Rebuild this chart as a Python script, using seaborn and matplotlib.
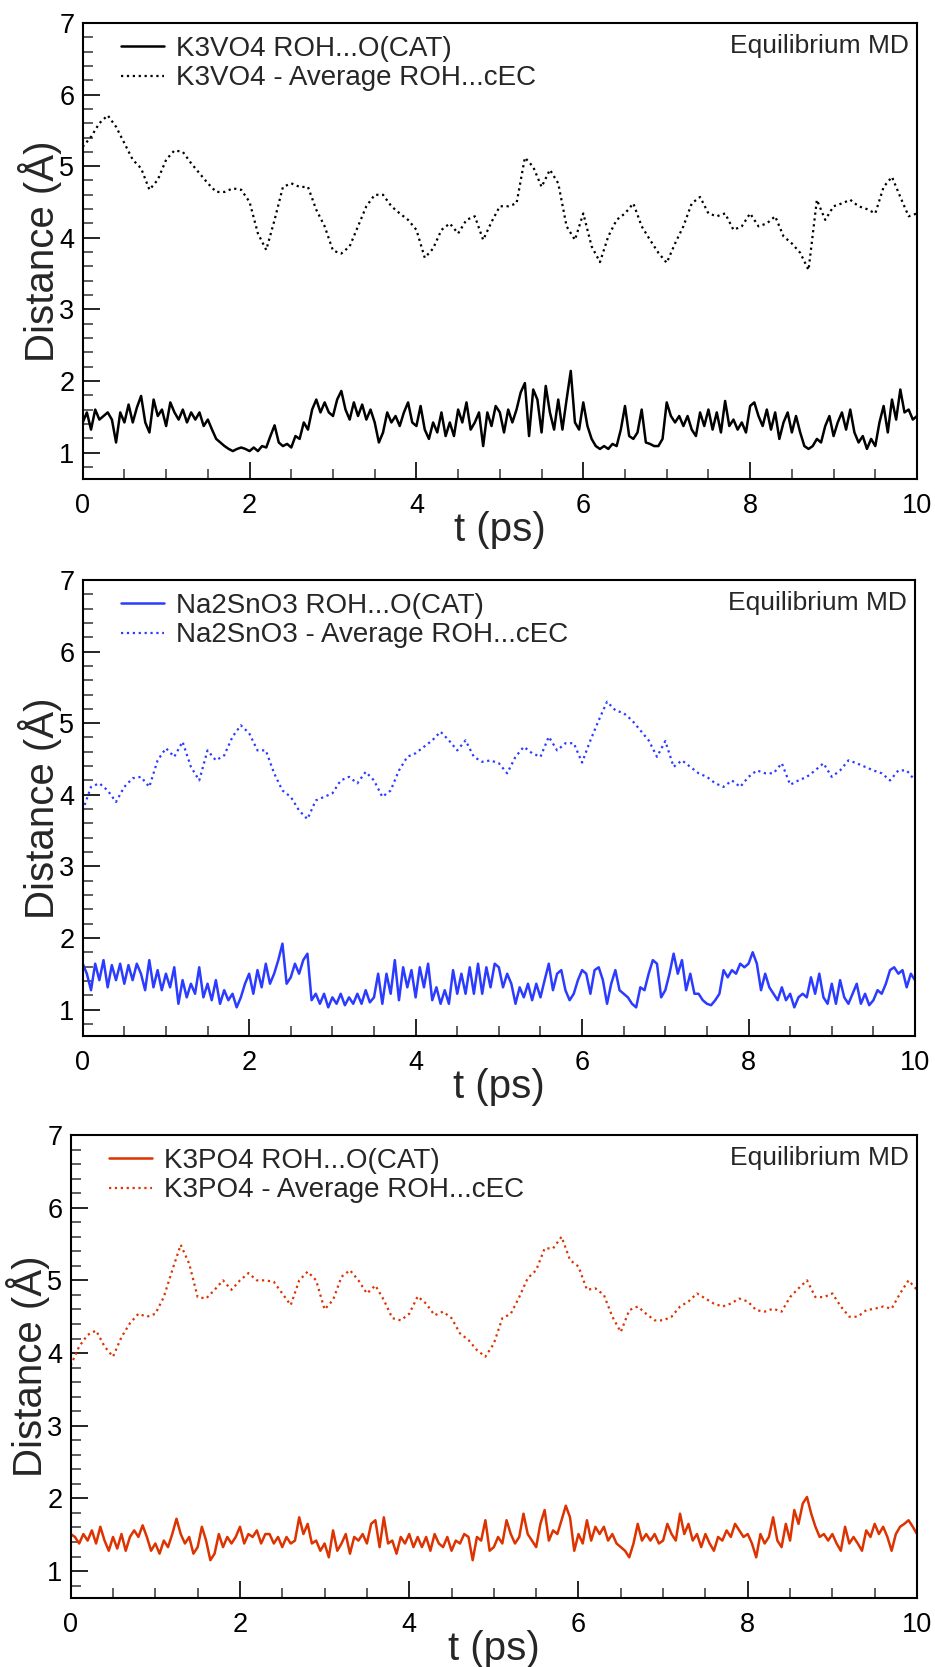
import numpy as np
import matplotlib
matplotlib.use("Agg")
import matplotlib.pyplot as plt
from matplotlib.ticker import MultipleLocator
from matplotlib.transforms import offset_copy
import seaborn as sns

# ---------------- data ----------------
k3vo4_cat = [1.42,1.56,1.32,1.6,1.46,1.51,1.56,1.46,1.14,1.56,
             1.42,1.67,1.42,1.63,1.79,1.42,1.28,1.74,1.51,1.6,
             1.37,1.7,1.56,1.46,1.6,1.42,1.56,1.46,1.56,1.37,
             1.46,1.32,1.19,1.14,1.09,1.05,1.02,1.05,1.07,1.05,
             1.02,1.07,1.02,1.09,1.07,1.23,1.38,1.14,1.09,1.12,
             1.07,1.23,1.19,1.42,1.32,1.6,1.74,1.56,1.7,1.56,
             1.51,1.74,1.86,1.6,1.46,1.7,1.51,1.67,1.46,1.6,
             1.42,1.14,1.28,1.56,1.42,1.51,1.37,1.56,1.7,1.42,
             1.37,1.65,1.32,1.19,1.42,1.28,1.56,1.23,1.42,1.23,
             1.6,1.42,1.7,1.32,1.42,1.56,1.09,1.56,1.37,1.65,
             1.56,1.28,1.6,1.42,1.6,1.84,1.97,1.23,1.88,1.74,
             1.28,1.93,1.56,1.32,1.74,1.32,1.74,2.14,1.42,1.32,
             1.7,1.37,1.19,1.09,1.05,1.09,1.05,1.12,1.09,1.32,
             1.65,1.23,1.19,1.28,1.6,1.14,1.12,1.09,1.09,1.19,
             1.7,1.51,1.42,1.51,1.37,1.51,1.32,1.23,1.56,1.37,
             1.6,1.32,1.56,1.28,1.72,1.37,1.46,1.32,1.42,1.28,
             1.65,1.7,1.51,1.37,1.6,1.32,1.56,1.19,1.42,1.56,
             1.28,1.51,1.28,1.09,1.05,1.09,1.19,1.14,1.37,1.51,
             1.23,1.42,1.56,1.32,1.6,1.28,1.14,1.23,1.05,1.19,
             1.09,1.42,1.65,1.28,1.74,1.46,1.88,1.56,1.6,1.46,
             1.51]
k3vo4_cec = [5.27,5.41,5.6,5.71,5.55,5.32,5.09,4.97,4.67,4.81,
             5.09,5.22,5.2,5.04,4.9,4.76,4.64,4.64,4.69,4.67,
             4.5,4.06,3.83,4.25,4.71,4.76,4.71,4.71,4.39,4.16,
             3.82,3.78,3.88,4.16,4.44,4.6,4.6,4.44,4.34,4.25,
             4.11,3.72,3.85,4.11,4.2,4.06,4.25,4.3,3.97,4.22,
             4.44,4.44,4.48,5.12,4.99,4.71,4.95,4.76,4.16,3.97,
             4.34,3.88,3.66,4.02,4.25,4.34,4.48,4.16,3.97,3.79,
             3.65,3.92,4.16,4.48,4.57,4.34,4.3,4.34,4.11,4.16,
             4.34,4.16,4.2,4.3,4.02,3.92,3.79,3.55,4.53,4.25,
             4.44,4.48,4.53,4.44,4.4,4.34,4.71,4.85,4.57,4.3,
             4.34]

na2sno3_cat = [1.64,1.5,1.27,1.64,1.41,1.69,1.31,1.62,1.41,1.64,
               1.36,1.62,1.41,1.64,1.5,1.27,1.69,1.31,1.55,1.27,
               1.5,1.31,1.59,1.08,1.41,1.17,1.36,1.22,1.59,1.17,
               1.36,1.13,1.41,1.08,1.27,1.13,1.22,1.03,1.17,1.36,
               1.5,1.22,1.55,1.31,1.64,1.36,1.5,1.69,1.92,1.36,
               1.45,1.64,1.5,1.69,1.78,1.13,1.22,1.08,1.22,1.03,
               1.17,1.08,1.22,1.06,1.17,1.08,1.22,1.08,1.27,1.1,
               1.17,1.5,1.08,1.5,1.22,1.69,1.13,1.59,1.31,1.55,
               1.17,1.59,1.31,1.64,1.13,1.31,1.08,1.27,1.08,1.55,
               1.22,1.5,1.22,1.59,1.22,1.64,1.22,1.59,1.31,1.64,
               1.59,1.31,1.5,1.36,1.08,1.31,1.17,1.36,1.13,1.36,
               1.17,1.41,1.64,1.27,1.5,1.55,1.27,1.13,1.22,1.41,
               1.55,1.5,1.22,1.55,1.59,1.41,1.08,1.36,1.55,1.27,
               1.22,1.17,1.08,1.03,1.31,1.27,1.5,1.69,1.64,1.17,
               1.27,1.5,1.78,1.5,1.69,1.27,1.5,1.22,1.22,1.13,
               1.08,1.06,1.13,1.22,1.55,1.45,1.55,1.5,1.64,1.59,
               1.64,1.8,1.64,1.27,1.5,1.31,1.22,1.13,1.31,1.13,
               1.22,1.03,1.17,1.22,1.17,1.45,1.22,1.5,1.17,1.08,
               1.36,1.08,1.41,1.17,1.08,1.22,1.36,1.08,1.22,1.06,
               1.13,1.27,1.22,1.36,1.55,1.59,1.5,1.55,1.31,1.5,
               1.41]
na2sno3_cec = [3.78,4.11,4.16,4.06,3.9,4.11,4.23,4.25,4.11,4.48,
               4.65,4.53,4.74,4.39,4.2,4.62,4.48,4.55,4.81,4.97,
               4.86,4.62,4.62,4.3,4.06,3.97,3.78,3.66,3.92,3.97,
               4.02,4.2,4.25,4.16,4.32,4.2,3.97,4.06,4.34,4.53,
               4.58,4.67,4.76,4.88,4.76,4.62,4.76,4.53,4.46,4.48,
               4.44,4.3,4.53,4.67,4.58,4.53,4.81,4.62,4.72,4.72,
               4.45,4.76,5.04,5.3,5.18,5.14,5.04,4.9,4.76,4.53,
               4.75,4.39,4.48,4.39,4.3,4.25,4.16,4.11,4.2,4.11,
               4.25,4.34,4.3,4.3,4.44,4.14,4.2,4.25,4.34,4.44,
               4.25,4.34,4.48,4.44,4.39,4.34,4.3,4.2,4.34,4.34,
               4.2]

k3po4_cat = [1.51,1.47,1.38,1.51,1.42,1.56,1.38,1.61,1.42,1.28,
             1.47,1.31,1.51,1.28,1.47,1.56,1.47,1.63,1.47,1.28,
             1.38,1.24,1.42,1.33,1.51,1.72,1.51,1.38,1.47,1.24,
             1.33,1.61,1.42,1.15,1.24,1.51,1.33,1.47,1.38,1.47,
             1.61,1.38,1.51,1.47,1.56,1.38,1.51,1.51,1.38,1.47,
             1.33,1.47,1.38,1.42,1.74,1.51,1.65,1.38,1.42,1.28,
             1.38,1.19,1.56,1.28,1.38,1.51,1.24,1.47,1.42,1.51,
             1.38,1.65,1.7,1.33,1.74,1.38,1.42,1.24,1.47,1.38,
             1.51,1.33,1.47,1.33,1.47,1.28,1.51,1.38,1.33,1.47,
             1.28,1.42,1.38,1.51,1.47,1.15,1.47,1.42,1.7,1.28,
             1.33,1.47,1.38,1.7,1.51,1.38,1.47,1.79,1.51,1.42,
             1.33,1.65,1.84,1.42,1.56,1.51,1.7,1.9,1.74,1.28,
             1.51,1.38,1.7,1.42,1.61,1.51,1.61,1.42,1.51,1.38,
             1.33,1.28,1.19,1.38,1.65,1.42,1.51,1.42,1.51,1.38,
             1.42,1.65,1.51,1.42,1.79,1.51,1.65,1.42,1.51,1.33,
             1.51,1.38,1.28,1.47,1.42,1.56,1.47,1.65,1.56,1.47,
             1.51,1.38,1.19,1.51,1.38,1.47,1.74,1.42,1.33,1.65,
             1.42,1.84,1.65,1.93,2.02,1.79,1.61,1.47,1.51,1.42,
             1.51,1.38,1.28,1.61,1.38,1.47,1.38,1.28,1.56,1.47,
             1.65,1.51,1.61,1.47,1.28,1.51,1.61,1.65,1.7,1.61,
             1.51]
k3po4_cec = [3.83,4.09,4.25,4.31,4.09,3.95,4.22,4.41,4.54,4.5,
             4.54,4.77,5.14,5.49,5.23,4.77,4.75,4.87,5.0,4.87,
             5.0,5.1,5.0,5.0,4.98,4.82,4.66,5.0,5.12,5.0,
             4.6,4.73,5.05,5.14,5.0,4.82,4.93,4.73,4.48,4.45,
             4.54,4.78,4.68,4.52,4.57,4.48,4.27,4.18,4.04,3.95,
             4.13,4.48,4.54,4.77,5.03,5.14,5.44,5.44,5.6,5.28,
             5.19,4.87,4.89,4.8,4.5,4.29,4.59,4.64,4.54,4.45,
             4.45,4.5,4.64,4.71,4.82,4.75,4.68,4.64,4.68,4.75,
             4.71,4.59,4.57,4.61,4.57,4.77,4.89,5.0,4.77,4.77,
             4.82,4.64,4.5,4.5,4.59,4.61,4.64,4.61,4.82,5.0,
             4.87]

panels = [
    ("K3VO4 ROH...O(CAT)", "K3VO4 - Average ROH...cEC", k3vo4_cat, k3vo4_cec, "#000000"),
    ("Na2SnO3 ROH...O(CAT)", "Na2SnO3 - Average ROH...cEC", na2sno3_cat, na2sno3_cec, "#2b3bff"),
    ("K3PO4 ROH...O(CAT)", "K3PO4 - Average ROH...cEC", k3po4_cat, k3po4_cec, "#dc3300"),
]
x_ticks = [0, 2, 4, 6, 8, 10]
y_ticks = [1, 2, 3, 4, 5, 6, 7]
annotation = "Equilibrium MD"
x_label = "t (ps)"
y_label = "Distance (Å)"

# ---------------- style ----------------
sns.set_style("ticks")
plt.rcParams["font.family"] = ["Liberation Sans", "DejaVu Sans"]
plt.rcParams["axes.linewidth"] = 1.5

W, H = 935, 1667
fig = plt.figure(figsize=(W / 100, H / 100), dpi=100)

# axes rectangles in pixels: left, top, right, bottom
rects = [(82.7, 23, 917, 479), (82.7, 580, 915, 1036), (70.7, 1135, 917, 1598)]

for (lab_cat, lab_cec, cat, cec, col), (l, t, r, b) in zip(panels, rects):
    ax = fig.add_axes([l / W, (H - b) / H, (r - l) / W, (b - t) / H])
    t_cat = np.linspace(0, 10, len(cat))
    t_cec = np.linspace(0, 10, len(cec))
    sns.lineplot(x=t_cat, y=cat, ax=ax, color=col, lw=1.8, label=lab_cat,
                 estimator=None, sort=False)
    sns.lineplot(x=t_cec, y=cec, ax=ax, color=col, lw=1.6, linestyle=":",
                 label=lab_cec, estimator=None, sort=False)
    ax.set_xlim(0, 10)
    ax.set_ylim(0.63, 7)
    ax.set_xticks(x_ticks)
    ax.set_yticks(y_ticks)
    ax.xaxis.set_minor_locator(MultipleLocator(0.5))
    ax.yaxis.set_minor_locator(MultipleLocator(0.2))
    for s in ax.spines.values():
        s.set_visible(True)
        s.set_linewidth(1.5)
        s.set_color("black")
    ax.tick_params(which="both", direction="in", top=False, right=False,
                   colors="black", width=1.2)
    ax.tick_params(which="major", length=12, labelsize=19.5)
    ax.tick_params(axis="x", which="major", pad=10)
    ax.tick_params(axis="y", which="major", pad=6)
    ax.tick_params(which="minor", length=7.5, color="#444444")
    ax.set_xlabel(x_label, fontsize=29, labelpad=-6)
    ax.set_ylabel(y_label, fontsize=29, labelpad=-2)

    tr = offset_copy(ax.transAxes, fig=fig, x=38, y=-13, units="dots")
    ax.legend(loc="upper left", bbox_to_anchor=(0, 1), bbox_transform=tr,
              frameon=False, fontsize=20, borderpad=0, borderaxespad=0,
              handlelength=1.55, handletextpad=0.45, labelspacing=0.12)
    ax.annotate(annotation, xy=(1, 1), xycoords="axes fraction",
                xytext=(-8, -30), textcoords="offset pixels",
                ha="right", va="baseline", fontsize=19)

fig.savefig("out.png", dpi=100)
